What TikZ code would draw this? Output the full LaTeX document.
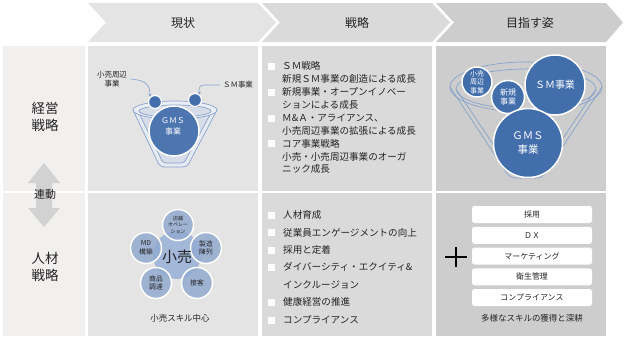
\documentclass[tikz,border=0pt]{standalone}
\usepackage{fontspec}
\setmainfont{Noto Sans CJK JP}
\usetikzlibrary{arrows.meta}
\definecolor{txt}{RGB}{35,35,35}
\definecolor{bgA}{RGB}{241,240,239}
\definecolor{bgB}{RGB}{228,228,228}
\definecolor{bgC}{RGB}{218,218,218}
\definecolor{bgD}{RGB}{205,205,205}
\definecolor{arrowgrey}{RGB}{210,210,210}
\definecolor{dblue}{RGB}{66,110,172}
\definecolor{lblue}{RGB}{146,170,208}
\definecolor{cblue}{RGB}{163,184,217}
\definecolor{fline}{RGB}{135,162,204}
\definecolor{ffill}{RGB}{214,221,233}
\newcommand\fsz[2]{\fontsize{#1}{#2}\selectfont}
\begin{document}
\begin{tikzpicture}[x=1bp,y=-1bp,
  every node/.style={text=txt, inner sep=0pt},
  hdr/.style={font=\fsz{12}{14}},
  side/.style={font=\fsz{13.5}{17}, align=center},
  item/.style={anchor=west, font=\fsz{9.6}{11}},
  bul/.style={fill=white},
  wbox/.style={fill=white, rounded corners=2.5bp, minimum width=120bp, minimum height=17bp, font=\fsz{8}{10}},
  dcirc/.style={circle, fill=dblue, draw=white, line width=1.5bp, text=white, align=center},
  fcirc/.style={circle, fill=lblue, fill opacity=0.85, text opacity=1, draw=white, line width=1.5bp, minimum size=31bp, align=center},
  funl/.style={draw=fline, line width=0.7bp},
  lbl/.style={font=\fsz{7.5}{9}, align=center},
]
\useasboundingbox (0,0) rectangle (624,340);
% backgrounds
\fill[bgA] (3,46) rectangle (85,190.5);
\fill[bgA] (3,193) rectangle (85,336);
\fill[bgB] (88,46) rectangle (258,190.5);
\fill[bgB] (88,193) rectangle (258,336);
\fill[bgC] (262,46) rectangle (432,190.5);
\fill[bgC] (262,193) rectangle (432,336);
\fill[bgD] (436,46) rectangle (606,190.5);
\fill[bgD] (436,193) rectangle (606,336);
% chevrons
\fill[bgB] (88,3) -- (258,3) -- (276,22.5) -- (258,42) -- (88,42) -- (106,22.5) -- cycle;
\fill[bgC] (262,3) -- (432,3) -- (450,22.5) -- (432,42) -- (262,42) -- (280,22.5) -- cycle;
\fill[bgD] (436,3) -- (606,3) -- (623,22.5) -- (606,42) -- (436,42) -- (454,22.5) -- cycle;
\node[hdr] (h1) at (183,22.5) {現状};
\node[hdr] (h2) at (357,22.5) {戦略};
\node[hdr] (h3) at (530,22.5) {目指す姿};
% left column
\node[side] (l1) at (45,117) {経営\\戦略};
\node[side] (l2) at (45,266.5) {人材\\戦略};
\fill[arrowgrey] (44,163) -- (60,183) -- (52,183) -- (52,208) -- (60,208) -- (44,227) -- (28,208) -- (36,208) -- (36,183) -- (28,183) -- cycle;
\node[font=\fsz{11}{13}] (rd) at (45,194) {連動};

% ---- col 2 top: funnel
\filldraw[funl, fill=ffill!60!white, rounded corners=4bp] (133,110) -- (160,167) -- (187,167) -- (217,110);
\filldraw[funl, fill=ffill, rounded corners=3bp] (139,113) -- (163,163) -- (184,163) -- (211,113);
\draw[funl, fill=ffill!50!white] (175,110) ellipse [x radius=42, y radius=9];
\draw[funl, fill=ffill] (175,111) ellipse [x radius=36, y radius=6];
\node[dcirc, minimum size=50bp, fill opacity=0.92] (gms) at (174,131) {};
\node[font=\fsz{8}{11}, text=white, align=center] (gmst) at (173,126.5) {ＧＭＳ\\事業};
\node[dcirc, minimum size=13bp, line width=1.2bp] (sc1) at (155,102) {};
\node[dcirc, minimum size=13bp, line width=1.2bp] (sc2) at (195,100) {};
\node[lbl] (t1) at (112,79) {小売周辺\\事業};
\node[lbl, font=\fsz{7.5}{9}] (t2) at (238,85) {ＳＭ事業};
\draw[fline, line width=0.6bp, -{Stealth[length=3.5bp,width=3bp]}] (t1.east) ++(3,0) .. controls (147,80) and (150,86) .. (sc1.north west);
\draw[fline, line width=0.6bp, -{Stealth[length=3.5bp,width=3bp]}] (t2.west) ++(-3,0) -- (204,85) .. controls (200,85) and (198,88) .. (sc2.north east);

% ---- col 2 bottom: flower
\node[circle, fill=cblue, minimum size=48bp] (core) at (177,255) {};
\node[fcirc] (f1) at (178,225) {};
\node[fcirc] (f2) at (206,248) {};
\node[fcirc] (f3) at (197,283) {};
\node[fcirc] (f4) at (156,283) {};
\node[fcirc] (f5) at (146,248) {};
\node[font=\fsz{15}{17}] (core t) at (177,257) {小売};
\node[font=\fsz{5}{6.5}, align=center] at (f1) {店舗\\オペレー\\ション};
\node[font=\fsz{6.8}{8.5}, align=center] at (f2) {製造\\陳列};
\node[font=\fsz{6.8}{8.5}, align=center] at (f3) {接客};
\node[font=\fsz{6.8}{8.5}, align=center] at (f4) {商品\\調達};
\node[font=\fsz{6.8}{8.5}, align=center] at (f5) {MD\\構築};
\node[font=\fsz{8.5}{10}] (c2cap) at (180,318) {小売スキル中心};

% ---- col 3 top list
\foreach \yy in {66,92,118,143.5}{\fill[bul] (268,\yy-3.5) rectangle (275,\yy+3.5);}
\node[item] (a1) at (282,66) {ＳＭ戦略};
\node[item] (a2) at (282,79) {新規ＳＭ事業の創造による成長};
\node[item] (a3) at (282,92) {新規事業・オープンイノベー};
\node[item] (a4) at (282,105) {ションによる成長};
\node[item] (a5) at (282,118) {Ｍ\&Ａ・アライアンス、};
\node[item] (a6) at (282,131) {小売周辺事業の拡張による成長};
\node[item] (a7) at (282,143.5) {コア事業戦略};
\node[item] (a8) at (282,156.5) {小売・小売周辺事業のオーガ};
\node[item] (a9) at (282,169) {ニック成長};

% ---- col 3 bottom list
\foreach \yy in {215,232.7,250,267.3,302.3,320}{\fill[bul] (268,\yy-3.5) rectangle (275,\yy+3.5);}
\node[item] (b1) at (283,215) {人材育成};
\node[item] (b2) at (283,232.7) {従業員エンゲージメントの向上};
\node[item] (b3) at (283,250) {採用と定着};
\node[item] (b4) at (283,267.3) {ダイバーシティ・エクイティ\&};
\node[item] (b5) at (283,285) {インクルージョン};
\node[item] (b6) at (283,302.3) {健康経営の推進};
\node[item] (b7) at (283,320) {コンプライアンス};

% ---- col 4 top: funnel with circles
\draw[funl, rounded corners=5bp] (450,87) -- (510,178) -- (542,178) -- (602,87);
\draw[funl, rounded corners=4bp] (456,89) -- (513,174) -- (539,174) -- (596,89);
\draw[funl] (526,87) ellipse [x radius=76, y radius=25];
\draw[funl] (526,89) ellipse [x radius=70, y radius=20];
\node[dcirc, minimum size=30bp, font=\fsz{7}{8.5}] (r1) at (477,82) {小売\\周辺\\事業};
\node[dcirc, minimum size=33bp, font=\fsz{8}{10}] (r2) at (508,97) {新規\\事業};
\node[dcirc, minimum size=60bp, font=\fsz{10}{12}] (r3) at (555,85) {ＳＭ事業};
\node[dcirc, minimum size=69bp, font=\fsz{10.5}{14}] (r4) at (528,143) {ＧＭＳ\\事業};

% ---- col 4 bottom
\draw[black, line width=1.1bp] (445,257) -- (467,257) (456,247) -- (456,267);
\node[wbox] (w1) at (532,214.5) {採用};
\node[wbox] (w2) at (532,235.3) {ＤＸ};
\node[wbox] (w3) at (532,256) {マーケティング};
\node[wbox] (w4) at (532,276.8) {衛生管理};
\node[wbox] (w5) at (532,297.5) {コンプライアンス};
\node[font=\fsz{8.5}{10}] (c4cap) at (532,318) {多様なスキルの獲得と深耕};
\end{tikzpicture}
\end{document}
